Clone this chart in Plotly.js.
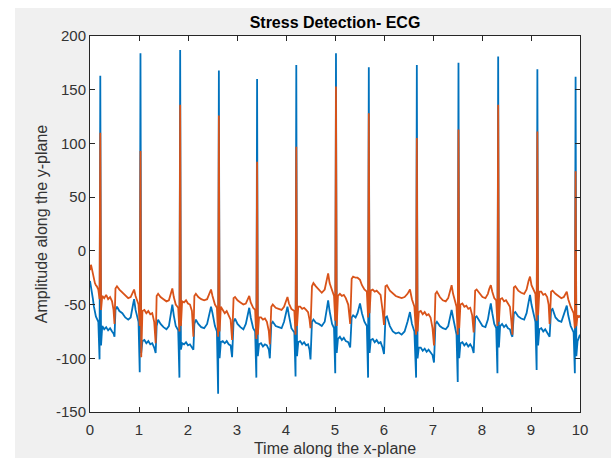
<!DOCTYPE html>
<html>
<head>
<meta charset="utf-8">
<script src="https://cdn.plot.ly/plotly-3.0.1.min.js"></script>
<style>
  html, body { margin: 0; padding: 0; background: #ffffff; width: 611px; height: 461px; overflow: hidden; }
  #chart { position: absolute; left: 0; top: 0; width: 611px; height: 461px; }
  .strip { position: absolute; background: #ffffff; }
</style>
</head>
<body>
<div id="chart"></div>
<div class="strip" style="left:0;top:0;width:15px;height:461px;"></div>
<div class="strip" style="left:0;top:0;width:611px;height:8px;"></div>
<div class="strip" style="left:0;top:458px;width:611px;height:3px;"></div>
<script>
// Time samples (s) shared by both ECG traces
const timeSec = [
  0, 0.02, 0.04, 0.06, 0.08, 0.10, 0.12, 0.14, 0.17, 0.195, 0.21, 0.225, 0.25,
  0.29, 0.33, 0.37, 0.41, 0.45, 0.48, 0.50, 0.52, 0.55, 0.60, 0.66, 0.72, 0.78, 0.83, 0.87, 0.90, 0.93, 0.96, 0.99, 1.015, 1.03, 1.045, 1.07,
  1.11, 1.15, 1.19, 1.23, 1.27, 1.31, 1.34, 1.36, 1.39, 1.44, 1.50, 1.56, 1.61, 1.65, 1.68, 1.71, 1.75, 1.80, 1.825, 1.84, 1.855, 1.88,
  1.92, 1.96, 2.00, 2.04, 2.08, 2.11, 2.13, 2.16, 2.21, 2.27, 2.33, 2.39, 2.44, 2.47, 2.50, 2.55, 2.59, 2.615, 2.63, 2.645, 2.67,
  2.71, 2.75, 2.79, 2.83, 2.87, 2.90, 2.93, 2.96, 3.01, 3.07, 3.13, 3.18, 3.22, 3.25, 3.28, 3.33, 3.37, 3.395, 3.41, 3.425, 3.45,
  3.49, 3.53, 3.57, 3.61, 3.65, 3.67, 3.70, 3.73, 3.79, 3.85, 3.91, 3.96, 4.00, 4.03, 4.06, 4.11, 4.17, 4.195, 4.21, 4.225, 4.25,
  4.29, 4.33, 4.37, 4.41, 4.45, 4.48, 4.50, 4.53, 4.56, 4.61, 4.67, 4.73, 4.79, 4.83, 4.86, 4.89, 4.94, 4.98, 5.005, 5.02, 5.035, 5.06,
  5.10, 5.14, 5.18, 5.22, 5.27, 5.31, 5.34, 5.37, 5.42, 5.46, 5.51, 5.55, 5.60, 5.65, 5.675, 5.69, 5.705, 5.73,
  5.77, 5.81, 5.85, 5.89, 5.93, 5.97, 6.00, 6.03, 6.06, 6.12, 6.18, 6.24, 6.30, 6.36, 6.42, 6.48, 6.53, 6.57, 6.62, 6.655, 6.67, 6.685, 6.71,
  6.75, 6.79, 6.83, 6.87, 6.91, 6.95, 6.99, 7.02, 7.05, 7.08, 7.14, 7.20, 7.26, 7.31, 7.35, 7.38, 7.41, 7.46, 7.48, 7.505, 7.52, 7.535, 7.56,
  7.60, 7.64, 7.68, 7.72, 7.76, 7.80, 7.83, 7.86, 7.89, 7.95, 8.01, 8.07, 8.12, 8.15, 8.18, 8.21, 8.25, 8.29, 8.315, 8.33, 8.345, 8.37,
  8.41, 8.45, 8.49, 8.53, 8.57, 8.60, 8.62, 8.65, 8.68, 8.74, 8.80, 8.86, 8.91, 8.95, 8.98, 9.01, 9.06, 9.09, 9.115, 9.13, 9.145, 9.17,
  9.21, 9.25, 9.29, 9.33, 9.36, 9.38, 9.41, 9.44, 9.50, 9.56, 9.62, 9.67, 9.70, 9.73, 9.76, 9.81, 9.87, 9.895, 9.91, 9.925, 9.95, 9.98, 10.0
];

// Blue trace amplitude
const ecgBlue = [
  -28, -33, -38, -45, -52, -58, -61, -63, -66, -101, 163, -88, -70,
  -73, -71, -74, -72, -75, -77, -80, -55, -52, -56, -58, -62, -64, -62, -52, -45, -55, -62, -66, -113, 184, -95, -84,
  -83, -86, -84, -87, -86, -90, -95, -70, -64, -68, -71, -73, -70, -58, -50, -60, -70, -74, -118, 187, -92, -86,
  -87, -85, -88, -87, -90, -92, -68, -64, -68, -71, -72, -68, -58, -52, -58, -70, -75, -133, 168, -100, -85,
  -84, -86, -84, -87, -88, -99, -66, -63, -68, -71, -73, -68, -58, -53, -62, -72, -75, -118, 160, -98, -87,
  -86, -89, -87, -88, -92, -100, -68, -66, -70, -71, -72, -66, -57, -52, -60, -72, -76, -117, 173, -98, -85,
  -84, -87, -85, -88, -87, -92, -101, -66, -64, -67, -68, -70, -66, -55, -46, -56, -68, -72, -114, 184, -95, -82,
  -80, -83, -81, -84, -85, -90, -62, -60, -62, -58, -49, -58, -66, -70, -118, 171, -95, -83,
  -82, -85, -83, -86, -85, -90, -96, -62, -61, -70, -75, -77, -76, -78, -75, -66, -57, -68, -75, -118, 173, -100, -90,
  -90, -93, -91, -94, -92, -95, -97, -104, -68, -66, -70, -72, -73, -70, -60, -55, -62, -74, -78, -122, 175, -100, -86,
  -85, -88, -86, -89, -87, -90, -95, -62, -61, -66, -70, -71, -64, -56, -49, -58, -68, -72, -114, 181, -90, -70,
  -68, -71, -69, -72, -73, -78, -80, -58, -57, -61, -63, -64, -58, -48, -41, -50, -60, -66, -111, 169, -88, -73,
  -72, -75, -73, -76, -78, -80, -55, -54, -62, -65, -66, -60, -55, -51, -60, -70, -76, -114, 162, -98, -84, -80, -78
];

// Orange trace amplitude
const ecgOrange = [
  -18, -13, -17, -22, -26, -30, -32, -33, -36, -45, 110, -55, -42,
  -44, -41, -45, -43, -47, -55, -68, -35, -33, -36, -39, -42, -44, -43, -38, -36, -42, -47, -50, -70, 93, -99, -56,
  -55, -58, -56, -59, -58, -66, -86, -42, -40, -43, -45, -47, -46, -40, -35, -43, -50, -53, -75, 136, -70, -47,
  -48, -46, -49, -50, -56, -80, -42, -40, -43, -45, -46, -45, -40, -36, -42, -50, -53, -80, 126, -75, -52,
  -55, -58, -56, -60, -64, -83, -44, -43, -46, -48, -50, -49, -45, -42, -48, -53, -55, -82, 83, -78, -62,
  -62, -64, -63, -66, -75, -87, -52, -50, -53, -54, -55, -52, -46, -43, -49, -54, -56, -78, 97, -70, -52,
  -52, -54, -53, -55, -57, -64, -72, -33, -30, -33, -36, -39, -36, -28, -21, -30, -38, -42, -65, 153, -70, -42,
  -40, -42, -41, -44, -50, -68, -26, -24, -25, -25, -27, -32, -36, -38, -62, 128, -58, -37,
  -36, -38, -37, -39, -41, -55, -69, -33, -32, -37, -40, -42, -43, -44, -43, -40, -36, -45, -52, -78, 105, -75, -57,
  -56, -59, -57, -60, -59, -62, -72, -88, -40, -38, -43, -46, -47, -44, -36, -32, -40, -50, -52, -78, 113, -72, -50,
  -49, -52, -51, -54, -53, -60, -76, -37, -36, -40, -43, -44, -40, -35, -32, -38, -44, -46, -70, 136, -66, -45,
  -44, -47, -46, -49, -52, -66, -78, -34, -33, -37, -39, -40, -36, -28, -24, -32, -38, -40, -65, 111, -60, -38,
  -38, -41, -40, -43, -50, -68, -38, -37, -40, -42, -44, -43, -40, -38, -45, -52, -58, -72, 74, -70, -60, -62, -60
];

// Axis tick values and labels
const xTickVals = [0, 1, 2, 3, 4, 5, 6, 7, 8, 9, 10];
const xTickText = ["0", "1", "2", "3", "4", "5", "6", "7", "8", "9", "10"];
const yTickVals = [-150, -100, -50, 0, 50, 100, 150, 200];
const yTickText = ["-150", "-100", "-50", "0", "50", "100", "150", "200"];

const axisColor = '#262626';
const labelColor = '#333333';
const fontFam = 'Arial, "Liberation Sans", Helvetica, sans-serif';

const traces = [
  { x: timeSec, y: ecgBlue, type: 'scatter', mode: 'lines',
    line: { color: '#0072BD', width: 1.8 }, name: 'ECG 1', hoverinfo: 'skip' },
  { x: timeSec, y: ecgOrange, type: 'scatter', mode: 'lines',
    line: { color: '#D95319', width: 1.8 }, name: 'ECG 2', hoverinfo: 'skip' }
];

const layout = {
  width: 611, height: 461,
  margin: { l: 90, r: 31, t: 36, b: 49 },
  paper_bgcolor: '#f0f0f0',
  plot_bgcolor: '#ffffff',
  showlegend: false,
  font: { family: fontFam, color: labelColor },
  title: {
    text: 'Stress Detection- ECG',
    font: { family: fontFam, size: 16, weight: 'bold', color: '#000000' },
    x: 0.5, xref: 'paper', xanchor: 'center',
    y: 1 - (22.7 / 461), yref: 'container', yanchor: 'middle'
  },
  xaxis: {
    range: [0, 10], tickmode: 'array', tickvals: xTickVals, ticktext: xTickText,
    ticks: 'inside', ticklen: 5, tickcolor: axisColor, tickwidth: 1,
    showline: true, linecolor: axisColor, linewidth: 1, mirror: 'ticks',
    showgrid: false, zeroline: false, ticklabelstandoff: 4,
    tickfont: { family: fontFam, size: 15, color: labelColor },
    title: { text: 'Time along the x-plane', font: { family: fontFam, size: 16, color: labelColor }, standoff: 5 }
  },
  yaxis: {
    range: [-150, 200], tickmode: 'array', tickvals: yTickVals, ticktext: yTickText,
    ticks: 'inside', ticklen: 5, tickcolor: axisColor, tickwidth: 1,
    showline: true, linecolor: axisColor, linewidth: 1, mirror: 'ticks',
    showgrid: false, zeroline: false,
    tickfont: { family: fontFam, size: 15, color: labelColor },
    title: { text: 'Amplitude along the y-plane', font: { family: fontFam, size: 16, color: labelColor }, standoff: 4 }
  }
};

Plotly.newPlot('chart', traces, layout, { displayModeBar: false, staticPlot: true });
</script>
</body>
</html>
